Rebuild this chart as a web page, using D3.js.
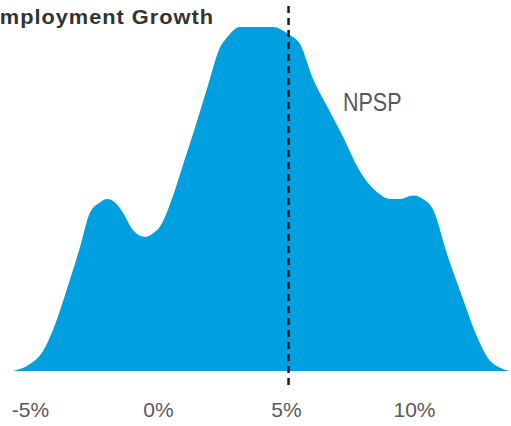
<!DOCTYPE html>
<html>
<head>
<meta charset="utf-8">
<script src="https://cdn.jsdelivr.net/npm/d3@7"></script>
<style>
  html, body { margin: 0; padding: 0; background: #fff; }
  svg { display: block; }
</style>
</head>
<body>
<svg id="chart" width="511" height="426"></svg>
<script>
// Data: employment growth (%) vs. density
const growth = [-5.66, -5.0, -4.49, -4.10, -3.55, -3.05, -2.66, -2.27, -1.99, -1.68, -1.37, -0.98, -0.51, -0.20, 0.08, 0.59, 0.98, 1.37, 1.91, 2.42, 2.70, 3.20, 3.87, 4.49, 5.08, 5.55, 6.05, 6.60, 7.23, 7.89, 8.55, 9.06, 9.45, 9.96, 10.35, 10.74, 11.29, 11.91, 12.46, 12.97, 13.75];
const density = [0.000, 0.002, 0.0058, 0.012, 0.024, 0.036, 0.046, 0.049, 0.050, 0.049, 0.046, 0.041, 0.039, 0.040, 0.042, 0.051, 0.060, 0.069, 0.082, 0.094, 0.097, 0.100, 0.100, 0.100, 0.098, 0.095, 0.085, 0.077, 0.068, 0.058, 0.052, 0.050, 0.050, 0.051, 0.050, 0.047, 0.034, 0.021, 0.010, 0.003, 0.000];
const tickValues = [-5, 0, 5, 10];
const tickLabels = ["-5%", "0%", "5%", "10%"];
const markerValue = 5.1;
const markerLabel = "NPSP";
const title = "Employment Growth";

const svg = d3.select("#chart");
const x = d3.scaleLinear().domain([-5, 10]).range([30, 414]);
const y = d3.scaleLinear().domain([0, 0.1]).range([371, 27]);

const pts = growth.map((g, i) => ({ g, d: density[i] }));

const area = d3.area()
  .x(p => x(p.g))
  .y0(y(0))
  .y1(p => y(p.d))
  .curve(d3.curveMonotoneX);

svg.append("path")
  .datum(pts)
  .attr("d", area)
  .attr("fill", "#00A0E0");

// x axis labels (no line, no ticks)
const axis = d3.axisBottom(x)
  .tickValues(tickValues)
  .tickFormat((d, i) => tickLabels[i])
  .tickSize(0)
  .tickPadding(0);

const gAxis = svg.append("g")
  .attr("transform", "translate(0,402)")
  .call(axis);
gAxis.select(".domain").remove();
gAxis.selectAll("text")
  .attr("dy", "0.71em")
  .attr("font-family", "'Liberation Sans', Arial, sans-serif")
  .attr("font-size", 21)
  .attr("fill", "#595959");

// marker line
svg.append("line")
  .attr("x1", x(markerValue)).attr("x2", x(markerValue))
  .attr("y1", 6).attr("y2", 385)
  .attr("stroke", "#1a1a1a")
  .attr("stroke-width", 2.5)
  .attr("stroke-dasharray", "7,5");

svg.append("text")
  .attr("transform", "translate(343,111) scale(0.86,1)")
  .attr("font-family", "'Liberation Sans', Arial, sans-serif")
  .attr("font-size", 25)
  .attr("fill", "#595959")
  .text(markerLabel);

svg.append("text")
  .attr("transform", "translate(214,24) scale(1.09,1)")
  .attr("text-anchor", "end")
  .attr("font-family", "'Liberation Sans', Arial, sans-serif")
  .attr("font-weight", "bold")
  .attr("font-size", 20)
  .attr("letter-spacing", 0.9)
  .attr("fill", "#333")
  .text(title);
</script>
</body>
</html>
